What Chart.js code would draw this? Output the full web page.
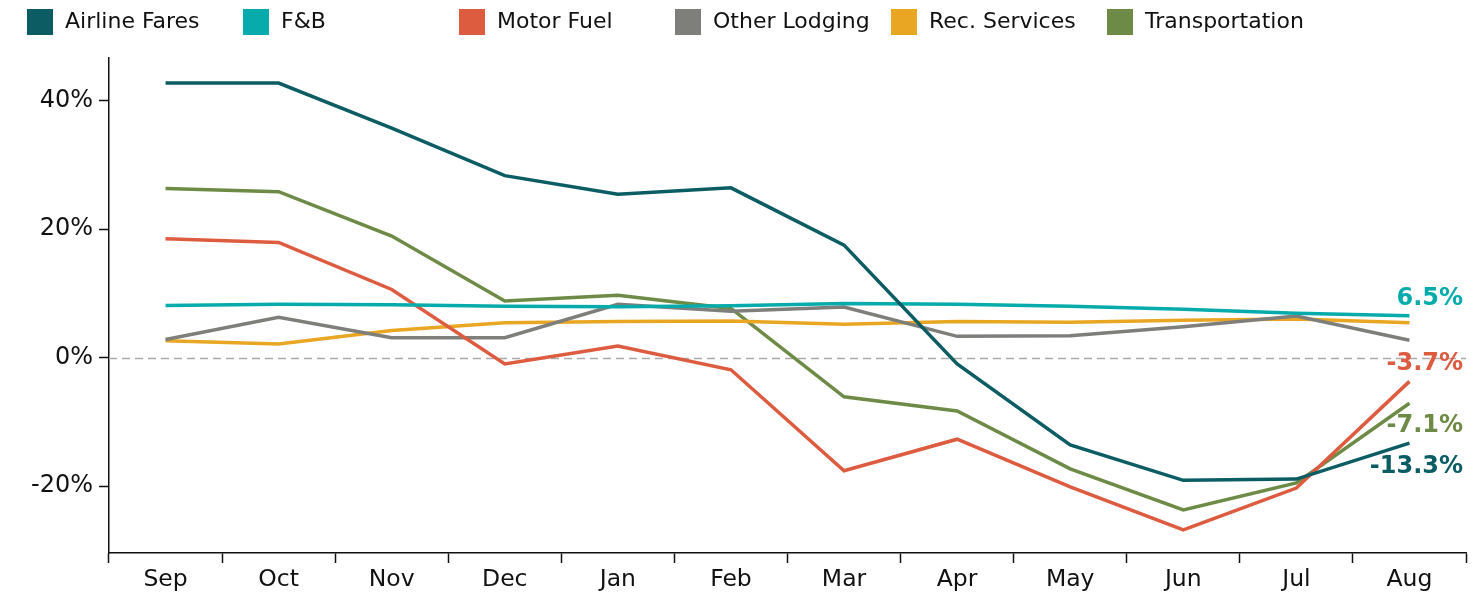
<!DOCTYPE html>
<html><head><meta charset="utf-8">
<script src="https://cdn.jsdelivr.net/npm/chart.js@4"></script>
<style>html,body{margin:0;padding:0;background:#fff}</style>
</head><body>
<canvas id="c" width="1473" height="604"></canvas>
<script>
const months = ['Sep','Oct','Nov','Dec','Jan','Feb','Mar','Apr','May','Jun','Jul','Aug'];
const airlineFares   = [42.7, 42.7, 35.7, 28.3, 25.4, 26.4, 17.5, -1.0, -13.6, -19.1, -18.9, -13.3];
const fnb            = [8.1, 8.3, 8.2, 8.0, 7.9, 8.05, 8.4, 8.3, 8.0, 7.5, 6.9, 6.5];
const motorFuel      = [18.5, 17.9, 10.6, -1.0, 1.8, -1.9, -17.6, -12.7, -20.1, -26.8, -20.3, -3.7];
const otherLodging   = [2.8, 6.25, 3.1, 3.1, 8.3, 7.2, 7.85, 3.3, 3.4, 4.8, 6.45, 2.7];
const recServices    = [2.6, 2.1, 4.2, 5.4, 5.6, 5.7, 5.2, 5.6, 5.5, 5.8, 6.0, 5.4];
const transportation = [26.3, 25.8, 18.9, 8.8, 9.7, 7.65, -6.1, -8.3, -17.3, -23.7, -19.5, -7.1];
const yTicks = [-20, 0, 20, 40];

const FONT = '"DejaVu Sans", Verdana, sans-serif';

const legendPlugin = {
  id: 'fixedLegend',
  afterDraw(chart) {
    const ctx = chart.ctx;
    ctx.save();
    chart.data.datasets.forEach((ds, i) => {
      const x = 27 + i * 216;
      ctx.fillStyle = ds.borderColor;
      ctx.fillRect(x, 9, 26, 26);
      ctx.fillStyle = '#111';
      ctx.font = '22px ' + FONT;
      ctx.textAlign = 'left';
      ctx.textBaseline = 'middle';
      ctx.fillText(ds.label, x + 38, 22);
    });
    ctx.restore();
  }
};

const zeroLinePlugin = {
  id: 'zeroLine',
  beforeDatasetsDraw(chart) {
    const ctx = chart.ctx, a = chart.chartArea;
    const y = Math.round(chart.scales.y.getPixelForValue(0)) + 0.5;
    ctx.save();
    ctx.strokeStyle = '#aaaaaa';
    ctx.lineWidth = 1.5;
    ctx.setLineDash([8, 5]);
    ctx.beginPath();
    ctx.moveTo(a.left, y);
    ctx.lineTo(a.right, y);
    ctx.stroke();
    ctx.restore();
  }
};

const endLabelPlugin = {
  id: 'endLabels',
  afterDatasetsDraw(chart) {
    const ctx = chart.ctx;
    chart.data.datasets.forEach((ds, i) => {
      if (!ds.endLabel) return;
      const meta = chart.getDatasetMeta(i);
      const pt = meta.data[meta.data.length - 1];
      const v = ds.data[ds.data.length - 1];
      ctx.save();
      ctx.font = 'bold 24px ' + FONT;
      ctx.fillStyle = ds.borderColor;
      ctx.textAlign = 'right';
      ctx.textBaseline = 'middle';
      ctx.fillText(v.toFixed(1) + '%', chart.chartArea.right - 3, pt.y + ds.endLabel.dy);
      ctx.restore();
    });
  }
};

function mk(label, data, color, endLabel) {
  return { label, data, borderColor: color, backgroundColor: color, borderWidth: 3.5,
    pointRadius: 0, pointHoverRadius: 0, tension: 0, fill: false, endLabel };
}

new Chart(document.getElementById('c'), {
  type: 'line',
  data: {
    labels: months,
    datasets: [
      mk('Airline Fares', airlineFares, '#0b5c63', { dy: 24 }),
      mk('F&B', fnb, '#08abab', { dy: -17 }),
      mk('Motor Fuel', motorFuel, '#dd5b3f', { dy: -18 }),
      mk('Other Lodging', otherLodging, '#7e7e7b', null),
      mk('Rec. Services', recServices, '#e9a623', null),
      mk('Transportation', transportation, '#6d8b46', { dy: 23 })
    ]
  },
  options: {
    responsive: false,
    animation: false,
    events: [],
    layout: { padding: { top: 58, right: 7, left: 0, bottom: 0 } },
    plugins: { legend: { display: false }, tooltip: { enabled: false } },
    scales: {
      x: {
        offset: true,
        afterFit(s) { s.height = 51; },
        grid: { offset: true, drawOnChartArea: false, drawTicks: true, tickLength: 10, tickColor: '#111', tickWidth: 1.5 },
        border: { display: true, color: '#111', width: 1.5 },
        ticks: { color: '#111', font: { family: FONT, size: 23.5 }, padding: 3, maxRotation: 0 }
      },
      y: {
        min: -30.4, max: 46.6,
        afterFit(s) { s.width = 109; },
        afterBuildTicks(s) { s.ticks = yTicks.map(v => ({ value: v })); },
        grid: { drawOnChartArea: false, drawTicks: true, tickLength: 10, tickColor: '#111', tickWidth: 1.5 },
        border: { display: true, color: '#111', width: 1.5 },
        ticks: { color: '#111', font: { family: FONT, size: 24 }, padding: 6, callback: v => v + '%' }
      }
    }
  },
  plugins: [zeroLinePlugin, endLabelPlugin, legendPlugin]
});
</script>
</body></html>
